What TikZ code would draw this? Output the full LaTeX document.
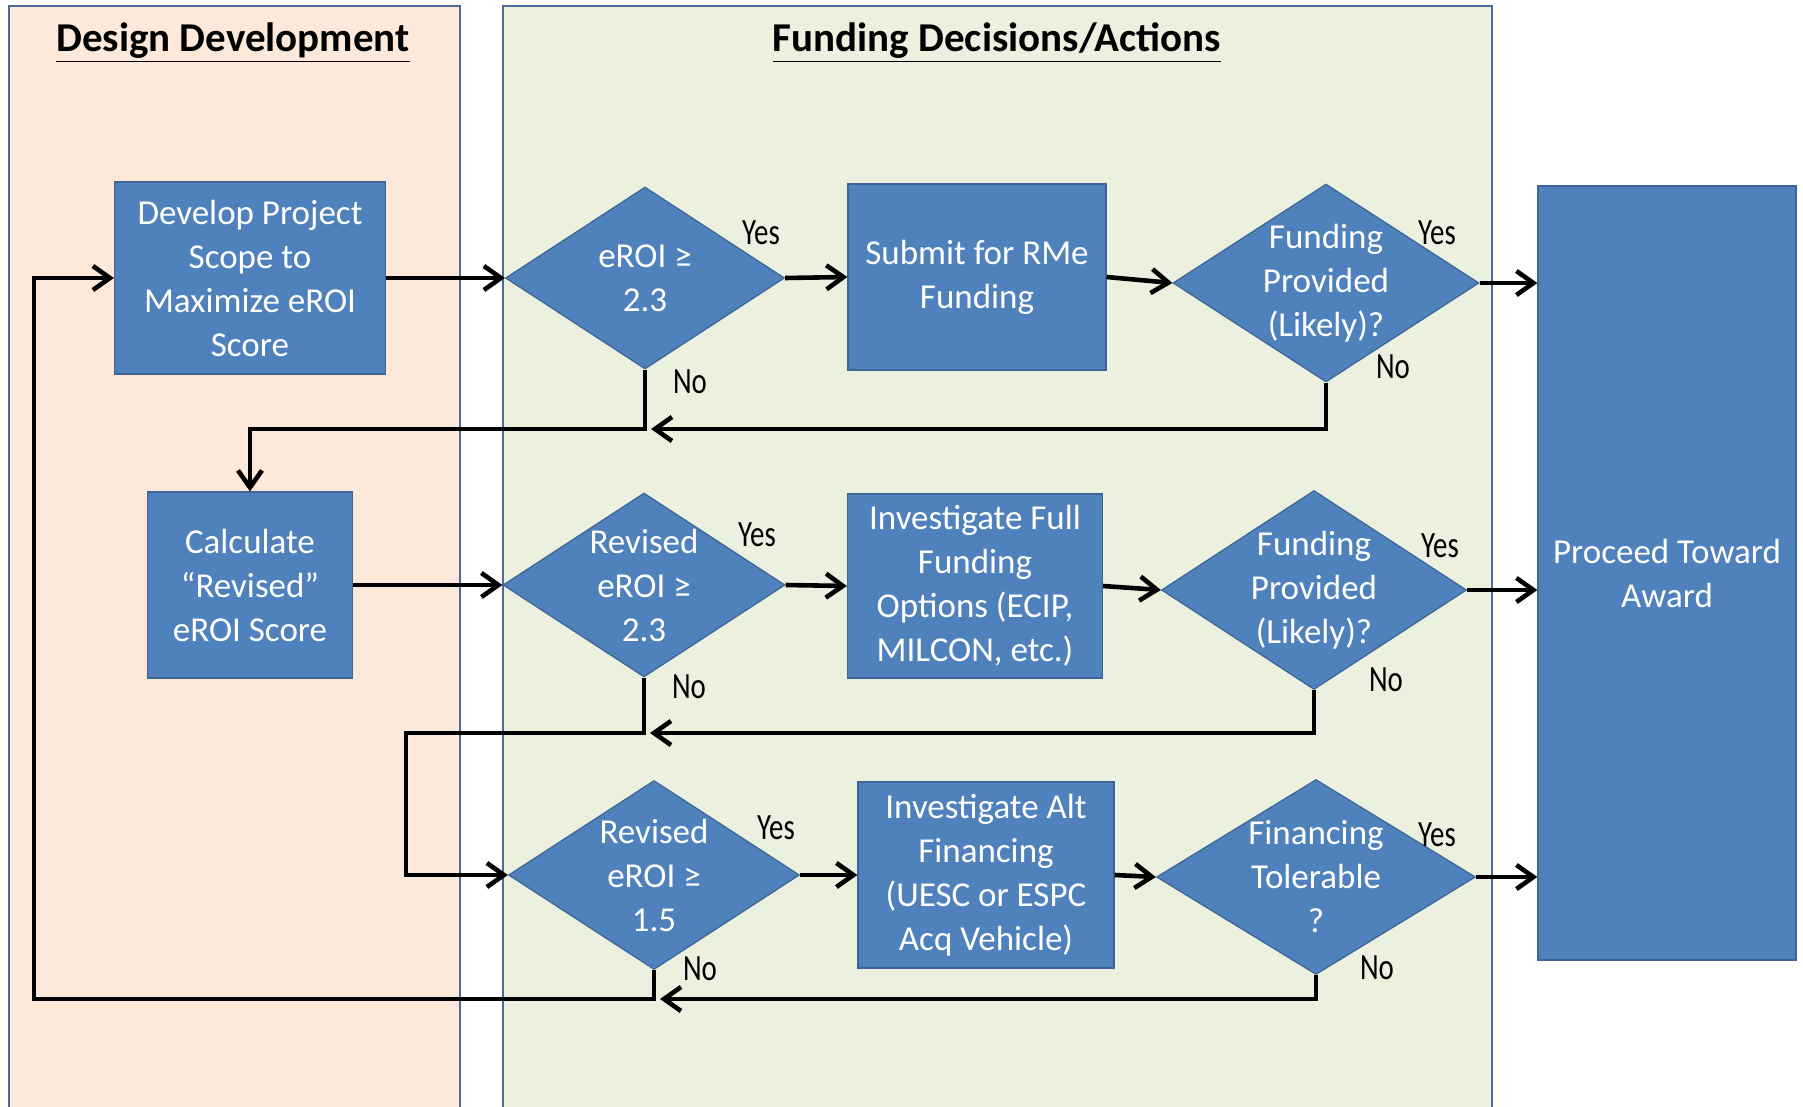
\documentclass[tikz,border=0pt]{standalone}
\usepackage{fontspec}
\setmainfont{Carlito}
\newfontfamily\answerfont[FakeStretch=0.78]{Carlito}
\usetikzlibrary{shapes.geometric,arrows.meta}

\definecolor{peach}{HTML}{FDE9D9}
\definecolor{sage}{HTML}{EBF1DE}
\definecolor{laneline}{HTML}{4A6B9C}
\definecolor{boxblue}{HTML}{4F81BD}
\definecolor{boxline}{HTML}{3C6596}

\tikzset{
  lane/.style={draw=laneline, line width=0.8pt},
  lanetitle/.style={font=\fontsize{20.5}{24}\selectfont\bfseries},
  process/.style={rectangle, draw=boxline, line width=0.6pt, fill=boxblue, text=white,
    align=center, inner sep=0pt, font=\fontsize{17.5}{22}\selectfont},
  decision/.style={diamond, draw=boxline, line width=0.6pt, fill=boxblue, inner sep=0pt},
  dtext/.style={text=white, align=center, font=\fontsize{17.5}{22}\selectfont},
  answer/.style={font=\answerfont\fontsize{18.5}{20}\selectfont, inner sep=0pt},
  flow/.style={-{Straight Barb[length=8.5pt,width=12pt]}, line width=2.3pt}
}

\begin{document}
\begin{tikzpicture}[x=0.5pt,y=-0.5pt]
    \useasboundingbox (0,0) rectangle (1803,1107);
    % swim lanes
    \fill[peach] (9,6) rectangle (460,1107);
    \draw[lane] (9,1107) |- (460,6) -- (460,1107);
    \fill[sage] (503,6) rectangle (1492,1107);
    \draw[lane] (503,1107) |- (1492,6) -- (1492,1107);
    \node[lanetitle] (ddtitle) at (233,43) {\underline{Design Development}};
    \node[lanetitle] (fdtitle) at (997,43) {\underline{Funding Decisions/Actions}};

    % row 1
    \node[process, minimum width=135.5pt, minimum height=96pt] (dev) at (250,278) {Develop Project\\Scope to\\Maximize eROI\\Score};
    \node[decision, minimum width=139.5pt, minimum height=91pt, label={[dtext]center:{eROI ≥\\2.3}}] (d1) at (645,278) {};
    \node[process, minimum width=129pt, minimum height=93pt] (rme) at (977,277) {Submit for RMe\\Funding};
    \node[decision, minimum width=153pt, minimum height=99pt, label={[dtext]center:{Funding\\Provided\\(Likely)?}}] (d2) at (1326,283) {};
    \node[process, minimum width=129pt, minimum height=387pt] (award) at (1667,573) {Proceed Toward\\Award};

    % row 2
    \node[process, minimum width=102.5pt, minimum height=93pt] (calc) at (250,585) {Calculate\\“Revised”\\eROI Score};
    \node[decision, minimum width=141pt, minimum height=92pt, label={[dtext]center:{Revised\\eROI ≥\\2.3}}] (d3) at (644,585) {};
    \node[process, minimum width=127.5pt, minimum height=92pt] (full) at (975,586) {Investigate Full\\Funding\\Options (ECIP,\\MILCON, etc.)};
    \node[decision, minimum width=152.5pt, minimum height=99.5pt, label={[dtext]center:{Funding\\Provided\\(Likely)?}}] (d4) at (1314,590) {};

    % row 3
    \node[decision, minimum width=145.5pt, minimum height=94.5pt, label={[dtext]center:{Revised\\eROI ≥\\1.5}}] (d5) at (654,875) {};
    \node[process, minimum width=128pt, minimum height=93pt] (alt) at (986,875) {Investigate Alt\\Financing\\(UESC or ESPC\\Acq Vehicle)};
    \node[decision, minimum width=159.5pt, minimum height=97.5pt, label={[dtext]center:{Financing\\Tolerable\\?}}] (d6) at (1316,877) {};

    % yes / no
    \node[answer] (yes1) at (761,233) {Yes};
    \node[answer] (no1) at (690,382) {No};
    \node[answer] (yes2) at (1437,233) {Yes};
    \node[answer] (no2) at (1393,367) {No};
    \node[answer] (yes3) at (757,535) {Yes};
    \node[answer] (no3) at (689,687) {No};
    \node[answer] (yes4) at (1440,546) {Yes};
    \node[answer] (no4) at (1386,680) {No};
    \node[answer] (yes5) at (776,828) {Yes};
    \node[answer] (no5) at (700,969) {No};
    \node[answer] (yes6) at (1437,835) {Yes};
    \node[answer] (no6) at (1377,968) {No};

    % junctions
    \coordinate (j1) at (651,429);
    \coordinate (j2) at (650,733);
    \coordinate (k2) at (406,733);
    \coordinate (j3) at (660,999);
    \coordinate (k3) at (34,999);

    % flow
    \draw[flow] (dev.east) -- (d1.west);
    \draw[flow] (d1.east) -- (rme.west);
    \draw[flow] (rme.east) -- (d2.west);
    \draw[flow] (d2.east) -- (d2.east -| award.west);
    \draw[flow] (d2.south) |- (j1);
    \draw[flow] (d1.south) -- (d1.south |- j1) -| (calc.north);

    \draw[flow] (calc.east) -- (d3.west);
    \draw[flow] (d3.east) -- (full.west);
    \draw[flow] (full.east) -- (d4.west);
    \draw[flow] (d4.east) -- (d4.east -| award.west);
    \draw[flow] (d4.south) |- (j2);
    \draw[flow] (d3.south) |- (k2) |- (d5.west);

    \draw[flow] (d5.east) -- (alt.west);
    \draw[flow] (alt.east) -- (d6.west);
    \draw[flow] (d6.east) -- (d6.east -| award.west);
    \draw[flow] (d6.south) |- (j3);
    \draw[flow] (d5.south) |- (k3) |- (dev.west);
\end{tikzpicture}
\end{document}
